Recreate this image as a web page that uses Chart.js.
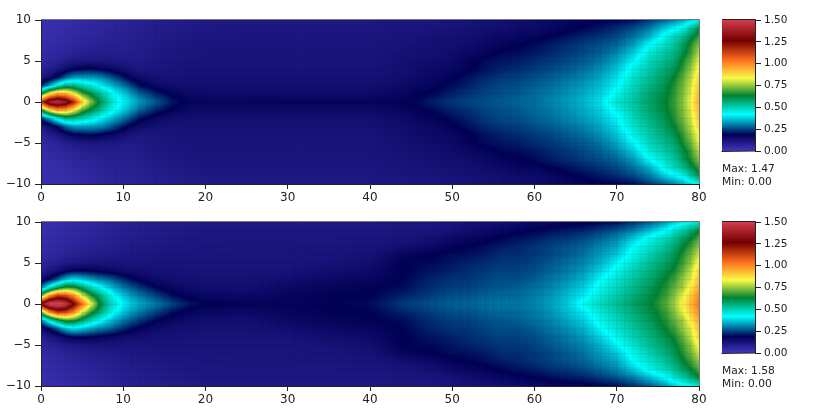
<!DOCTYPE html>
<html>
<head>
<meta charset="utf-8">
<script src="https://cdn.jsdelivr.net/npm/chart.js@4/dist/chart.umd.min.js"></script>
<style>
  body { margin: 0; background: #fff; }
  canvas { position: absolute; }
</style>
</head>
<body>
<canvas id="plot1" width="715" height="213" style="left:0;top:0"></canvas>
<canvas id="bar1" width="130" height="213" style="left:700px;top:0"></canvas>
<canvas id="plot2" width="715" height="213" style="left:0;top:202px"></canvas>
<canvas id="bar2" width="130" height="213" style="left:700px;top:202px"></canvas>
<script>
const xColumns = [0,1,2,3,4,5,6,7,8,9,10,11,12,14,16,18,20,25,30,35,40,44,46,48,50,52,54,56,58,60,62,64,66,68,70,72,74,76,77,78,79,80];

const topField = [
  [1.15,1.4,1.47,1.38,1.18,.92,.76,.63,.53,.45,.41,.37,.33,.27,.21,.18,.175,.175,.18,.18,.18,.185,.2,.22,.24,.25,.26,.27,.28,.29,.31,.33,.355,.39,.47,.52,.58,.634,.68,.74,.83,.95],
  [.62,.85,.97,.95,.84,.7,.62,.55,.48,.42,.38,.33,.28,.22,.18,.16,.155,.155,.155,.155,.155,.17,.185,.2,.22,.235,.25,.26,.27,.285,.3,.32,.345,.375,.44,.505,.57,.625,.67,.73,.81,.93],
  [.22,.33,.45,.55,.54,.5,.46,.42,.38,.34,.3,.25,.2,.16,.145,.14,.14,.14,.14,.14,.14,.155,.17,.18,.2,.22,.24,.255,.26,.275,.29,.31,.33,.36,.41,.49,.55,.61,.66,.72,.8,.91],
  [.1,.14,.2,.28,.33,.33,.33,.32,.29,.25,.21,.17,.15,.13,.125,.13,.13,.13,.13,.13,.13,.145,.155,.165,.185,.205,.225,.24,.245,.26,.275,.29,.31,.34,.39,.47,.53,.59,.635,.7,.78,.88],
  [.07,.09,.11,.15,.18,.19,.2,.19,.17,.16,.14,.12,.11,.115,.12,.125,.125,.125,.125,.125,.125,.14,.15,.155,.165,.185,.205,.22,.23,.24,.255,.27,.29,.32,.365,.445,.51,.57,.6,.67,.75,.85],
  [.05,.06,.07,.09,.1,.11,.11,.11,.105,.105,.1,.1,.1,.11,.115,.12,.12,.12,.12,.12,.12,.135,.145,.15,.155,.18,.2,.21,.215,.23,.24,.255,.27,.295,.34,.41,.49,.545,.57,.645,.72,.82],
  [.04,.05,.055,.065,.07,.08,.085,.09,.09,.09,.09,.09,.095,.105,.11,.115,.118,.118,.118,.118,.12,.13,.135,.14,.15,.16,.175,.195,.2,.21,.225,.24,.255,.275,.31,.37,.46,.52,.55,.6,.68,.78],
  [.035,.04,.045,.05,.06,.065,.07,.075,.08,.08,.08,.085,.09,.1,.105,.11,.115,.115,.115,.115,.115,.125,.13,.135,.14,.15,.16,.175,.185,.2,.215,.23,.245,.26,.28,.33,.42,.48,.52,.58,.66,.74],
  [.03,.035,.04,.045,.05,.055,.06,.065,.07,.075,.08,.08,.085,.095,.1,.105,.11,.112,.112,.112,.112,.12,.125,.13,.135,.14,.15,.16,.17,.175,.19,.205,.22,.235,.255,.29,.35,.45,.49,.53,.6,.68],
  [.03,.03,.035,.04,.045,.05,.055,.06,.065,.07,.07,.075,.08,.09,.095,.1,.105,.11,.11,.11,.11,.115,.115,.12,.125,.13,.135,.14,.15,.155,.165,.18,.195,.21,.23,.255,.3,.38,.41,.44,.52,.6],
  [.03,.03,.03,.035,.04,.045,.05,.055,.06,.065,.07,.07,.075,.085,.09,.095,.1,.105,.105,.105,.105,.11,.11,.115,.12,.125,.13,.14,.145,.15,.16,.17,.18,.185,.19,.2,.24,.28,.31,.34,.38,.44]
];

const bottomField = [
  [1.3,1.55,1.58,1.5,1.28,1.05,.85,.66,.54,.46,.41,.37,.34,.3,.25,.21,.19,.18,.18,.19,.2,.24,.255,.265,.275,.28,.29,.295,.295,.31,.335,.37,.44,.49,.53,.58,.625,.7,.76,.84,.93,1.03],
  [.7,.98,1.15,1.12,1.0,.82,.68,.58,.49,.42,.37,.33,.3,.25,.2,.18,.165,.16,.175,.185,.19,.22,.235,.25,.26,.265,.275,.285,.285,.3,.325,.36,.4,.46,.51,.56,.61,.68,.74,.82,.9,1.0],
  [.3,.45,.58,.68,.66,.58,.5,.44,.39,.34,.3,.27,.24,.19,.165,.15,.145,.14,.16,.175,.185,.2,.22,.235,.245,.25,.26,.27,.275,.29,.31,.34,.375,.44,.49,.54,.59,.66,.71,.76,.85,.96],
  [.14,.2,.27,.36,.4,.37,.34,.31,.29,.26,.23,.2,.18,.15,.14,.135,.13,.13,.145,.16,.17,.19,.21,.225,.235,.24,.25,.26,.26,.275,.295,.32,.35,.415,.47,.52,.57,.64,.68,.75,.81,.92],
  [.09,.11,.14,.17,.2,.2,.19,.18,.17,.16,.15,.14,.14,.13,.13,.125,.125,.125,.125,.145,.155,.19,.2,.21,.22,.23,.24,.25,.25,.26,.28,.3,.33,.38,.44,.5,.55,.61,.65,.71,.79,.89],
  [.06,.07,.085,.1,.11,.11,.12,.12,.12,.12,.12,.12,.12,.12,.12,.12,.12,.12,.12,.125,.14,.19,.195,.2,.21,.22,.23,.24,.24,.25,.27,.29,.31,.35,.41,.47,.53,.585,.62,.68,.75,.85],
  [.05,.055,.06,.07,.08,.085,.09,.095,.1,.1,.105,.11,.11,.115,.115,.115,.115,.118,.118,.12,.13,.17,.185,.19,.2,.205,.215,.23,.23,.24,.255,.27,.295,.33,.37,.44,.5,.56,.6,.66,.72,.8],
  [.04,.045,.05,.055,.065,.07,.075,.08,.085,.09,.095,.1,.1,.105,.11,.11,.115,.115,.115,.118,.12,.14,.15,.165,.18,.19,.2,.215,.225,.235,.25,.265,.28,.31,.34,.42,.47,.53,.57,.62,.68,.75],
  [.035,.04,.045,.05,.055,.06,.065,.07,.075,.08,.085,.09,.095,.1,.105,.11,.11,.112,.112,.112,.115,.12,.13,.14,.155,.165,.18,.195,.205,.215,.23,.24,.255,.28,.31,.37,.44,.49,.53,.58,.63,.7],
  [.03,.035,.04,.045,.05,.055,.06,.065,.07,.075,.08,.085,.09,.095,.1,.105,.11,.11,.11,.11,.11,.115,.115,.12,.13,.145,.155,.165,.18,.19,.2,.21,.22,.24,.265,.3,.36,.42,.47,.51,.56,.62],
  [.03,.03,.035,.04,.045,.05,.055,.06,.065,.07,.075,.08,.085,.09,.095,.1,.105,.105,.105,.105,.105,.11,.11,.115,.12,.13,.13,.14,.145,.155,.165,.175,.18,.19,.2,.23,.27,.33,.37,.4,.43,.46]
];

// colorbar stops
const stopValues = [0, .19, .42, .634, .835, 1.04, 1.265, 1.5];
const stopColors = [[65,55,190],[0,0,85],[0,255,255],[0,130,50],[250,250,70],[255,110,30],[115,0,0],[210,60,75]];

const colorbarTicks = [0, .25, .5, .75, 1, 1.25, 1.5];
const topNote = ['Max: 1.47', 'Min: 0.00'];
const bottomNote = ['Max: 1.58', 'Min: 0.00'];

const fontName = '"DejaVu Sans"';
const darkLine = '#222';

function colorFor(v) {
  if (v <= stopValues[0]) return stopColors[0];
  for (let i = 1; i < stopValues.length; i++) {
    if (v <= stopValues[i]) {
      const t = (v - stopValues[i-1]) / (stopValues[i] - stopValues[i-1]);
      const a = stopColors[i-1], b = stopColors[i];
      return [a[0]+(b[0]-a[0])*t, a[1]+(b[1]-a[1])*t, a[2]+(b[2]-a[2])*t];
    }
  }
  return stopColors[stopColors.length-1];
}

// gouraud style shading between the mesh nodes, same as the original plot
function valueAt(field, x, y) {
  let c = 0;
  while (c < xColumns.length-2 && xColumns[c+1] < x) c++;
  const tx = Math.min(1, Math.max(0, (x - xColumns[c]) / (xColumns[c+1] - xColumns[c])));
  const ay = Math.min(Math.abs(y), 10);
  const r = Math.min(Math.floor(ay), 9);
  const ty = ay - r;
  const low = field[r][c] + (field[r][c+1] - field[r][c]) * tx;
  const high = field[r+1][c] + (field[r+1][c+1] - field[r+1][c]) * tx;
  return low + (high - low) * ty;
}

const meshShade = {
  id: 'meshShade',
  beforeDatasetsDraw(chart) {
    const a = chart.chartArea;
    const w = Math.round(a.right - a.left), h = Math.round(a.bottom - a.top);
    const img = chart.ctx.createImageData(w, h);
    const field = chart.data.datasets[0].field;
    for (let j = 0; j < h; j++) {
      const yv = chart.scales.y.getValueForPixel(a.top + j + .5);
      for (let i = 0; i < w; i++) {
        const xv = chart.scales.x.getValueForPixel(a.left + i + .5);
        const col = colorFor(field ? valueAt(field, xv, yv) : yv);
        const p = (j*w + i) * 4;
        img.data[p] = col[0]; img.data[p+1] = col[1]; img.data[p+2] = col[2]; img.data[p+3] = 255;
      }
    }
    chart.ctx.putImageData(img, a.left, a.top);
  },
  afterDraw(chart) {
    const a = chart.chartArea, ctx = chart.ctx;
    ctx.save();
    ctx.strokeStyle = chart.data.datasets[0].field ? '#777' : darkLine;
    ctx.lineWidth = 1;
    ctx.beginPath();
    ctx.moveTo(a.left, a.top - .5);
    ctx.lineTo(a.right + .5, a.top - .5);
    ctx.lineTo(a.right + .5, a.bottom);
    if (!chart.data.datasets[0].field) ctx.lineTo(a.left - .5, a.bottom + .5);
    ctx.stroke();
    const note = chart.data.datasets[0].note;
    if (note) {
      ctx.fillStyle = darkLine;
      ctx.font = '10.7px ' + fontName;
      ctx.fillText(note[0], a.left, a.bottom + 21);
      ctx.fillText(note[1], a.left, a.bottom + 33.5);
    }
    ctx.restore();
  }
};

function meshPoints(field) {
  const pts = [];
  field.forEach((row, r) => row.forEach((v, c) => {
    pts.push({x: xColumns[c], y: r, v: v});
    if (r > 0) pts.push({x: xColumns[c], y: -r, v: v});
  }));
  return pts;
}

function drawPlot(id, field) {
  new Chart(document.getElementById(id), {
    type: 'scatter',
    data: { datasets: [{ data: meshPoints(field), field: field, pointRadius: 0 }] },
    plugins: [meshShade],
    options: {
      responsive: false,
      animation: false,
      layout: { autoPadding: false, padding: { top: 20, right: 16, left: 0, bottom: 0 } },
      plugins: { legend: { display: false }, tooltip: { enabled: false } },
      scales: {
        x: {
          type: 'linear', min: 0, max: 80,
          afterFit(s) { s.height = 29; },
          grid: {
            z: 1, drawTicks: true, tickLength: 5,
            color: 'rgba(0,0,0,0.06)',
            tickColor: c => c.tick.value % 10 === 0 ? darkLine : 'rgba(0,0,0,0)'
          },
          border: { color: darkLine, z: 2 },
          ticks: {
            stepSize: 1, autoSkip: false, maxTicksLimit: 200, maxRotation: 0, padding: 2,
            color: darkLine, font: { family: fontName, size: 12 },
            callback: v => v % 10 === 0 ? String(v) : ''
          }
        },
        y: {
          type: 'linear', min: -10, max: 10,
          afterFit(s) { s.width = 41; },
          grid: {
            z: 1, drawTicks: true, tickLength: 6,
            color: 'rgba(0,0,0,0.06)',
            tickColor: c => c.tick.value % 5 === 0 ? darkLine : 'rgba(0,0,0,0)'
          },
          border: { color: darkLine, z: 2 },
          ticks: {
            stepSize: 1, autoSkip: false, maxTicksLimit: 200, padding: 4,
            color: darkLine, font: { family: fontName, size: 12 },
            callback: v => v % 5 === 0 ? String(v).replace('-', '\u2212') : ''
          }
        }
      }
    }
  });
}

function drawBar(id, note) {
  new Chart(document.getElementById(id), {
    type: 'scatter',
    data: { datasets: [{ data: colorbarTicks.map(v => ({x: 0, y: v})), note: note, pointRadius: 0 }] },
    plugins: [meshShade],
    options: {
      responsive: false,
      animation: false,
      layout: { autoPadding: false, padding: { top: 20, right: 0, left: 22, bottom: 62 } },
      plugins: { legend: { display: false }, tooltip: { enabled: false } },
      scales: {
        x: { type: 'linear', display: false, min: 0, max: 1 },
        y: {
          type: 'linear', position: 'right', min: 0, max: 1.5,
          afterFit(s) { s.width = 75; },
          afterBuildTicks(s) { s.ticks = colorbarTicks.map(v => ({value: v})); },
          grid: { display: true, drawOnChartArea: false, tickLength: 6, tickColor: darkLine },
          border: { color: darkLine, z: 2 },
          ticks: {
            padding: 3, color: darkLine, font: { family: fontName, size: 10.5 },
            callback: v => Number(v).toFixed(2)
          }
        }
      }
    }
  });
}

drawPlot('plot1', topField);
drawBar('bar1', topNote);
drawPlot('plot2', bottomField);
drawBar('bar2', bottomNote);
</script>
</body>
</html>
